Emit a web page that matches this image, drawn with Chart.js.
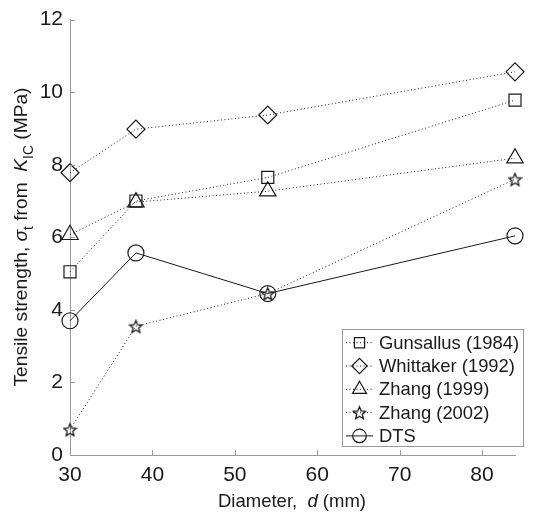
<!DOCTYPE html>
<html>
<head>
<meta charset="utf-8">
<script src="https://cdn.jsdelivr.net/npm/chart.js@4/dist/chart.umd.min.js"></script>
<style>
  html, body { margin: 0; padding: 0; background: #fff; }
  #wrap { width: 539px; height: 513px; position: relative; }
</style>
</head>
<body>
<div id="wrap"><canvas id="c"></canvas></div>
<script>
const diameters = [30, 38, 54, 84];
const gunsallus = [5.05, 7.0, 7.65, 9.78];
const whittaker = [7.78, 8.98, 9.37, 10.56];
const zhang1999 = [6.07, 6.97, 7.27, 8.18];
const zhang2002 = [0.7, 3.55, 4.45, 7.6];
const dts = [3.7, 5.57, 4.45, 6.04];
const xTicks = [30, 40, 50, 60, 70, 80];
const yTicks = [0, 2, 4, 6, 8, 10, 12];
const seriesLabels = ['Gunsallus (1984)', 'Whittaker (1992)', 'Zhang (1999)', 'Zhang (2002)', 'DTS'];

const INK = '#1a1a1a';
const AXIS = '#9a9a9a';
const FONT = '"Liberation Sans", Arial, Helvetica, sans-serif';

// five-pointed star outline used as a marker image
function makeStar(size) {
  const cv = document.createElement('canvas');
  cv.width = size; cv.height = size;
  const g = cv.getContext('2d');
  const c = size / 2, ro = size / 2 - 1, ri = ro * 0.45;
  g.beginPath();
  for (let i = 0; i < 10; i++) {
    const r = i % 2 ? ri : ro;
    const a = -Math.PI / 2 + i * Math.PI / 5;
    const px = c + r * Math.cos(a), py = c + 0.8 + r * Math.sin(a);
    i ? g.lineTo(px, py) : g.moveTo(px, py);
  }
  g.closePath();
  g.strokeStyle = INK;
  g.lineWidth = 1.3;
  g.stroke();
  return cv;
}
const starMarker = makeStar(15);

function series(label, values, style, radius, dotted) {
  return {
    label: label,
    data: values.map((v, i) => ({ x: diameters[i], y: v })),
    showLine: true,
    clip: false,
    borderColor: INK,
    borderWidth: 1,
    borderDash: dotted ? [1, 2.5] : [],
    pointStyle: style,
    pointRadius: radius,
    pointBorderColor: INK,
    pointBorderWidth: 1.2,
    pointBackgroundColor: 'rgba(0,0,0,0)',
    tension: 0
  };
}

const datasets = [
  series(seriesLabels[0], gunsallus, 'rect', 8.5, true),
  series(seriesLabels[1], whittaker, 'rectRot', 9, true),
  series(seriesLabels[2], zhang1999, 'triangle', 9.5, true),
  series(seriesLabels[3], zhang2002, starMarker, 7, true),
  series(seriesLabels[4], dts, 'circle', 8, false)
];

function drawRich(ctx, parts, size) {
  const fontFor = p => (p.italic ? 'italic ' : '') + (p.sub ? size * 0.72 : size) + 'px ' + FONT;
  let total = 0;
  parts.forEach(p => { ctx.font = fontFor(p); p.w = ctx.measureText(p.t).width; total += p.w; });
  let x = -total / 2;
  parts.forEach(p => {
    ctx.font = fontFor(p);
    ctx.fillText(p.t, x, p.sub ? size * 0.32 : 0);
    x += p.w;
  });
}

const decorPlugin = {
  id: 'decor',
  afterDraw(chart) {
    const ctx = chart.ctx;
    const xs = chart.scales.x, ys = chart.scales.y;
    const area = chart.chartArea;

    // inward tick marks
    ctx.save();
    ctx.strokeStyle = AXIS;
    ctx.lineWidth = 1;
    ctx.beginPath();
    xTicks.forEach(v => {
      const px = Math.round(xs.getPixelForValue(v)) + 0.5;
      ctx.moveTo(px, area.bottom); ctx.lineTo(px, area.bottom - 5);
    });
    yTicks.forEach(v => {
      const py = Math.round(ys.getPixelForValue(v)) + 0.5;
      ctx.moveTo(area.left, py); ctx.lineTo(area.left + 5, py);
    });
    ctx.stroke();
    ctx.restore();

    // axis titles
    ctx.save();
    ctx.fillStyle = INK;
    ctx.textBaseline = 'alphabetic';
    ctx.textAlign = 'left';
    ctx.translate(27, 237);
    ctx.rotate(-Math.PI / 2);
    drawRich(ctx, [
      { t: 'Tensile strength, ' },
      { t: 'σ', italic: true },
      { t: 't', sub: true },
      { t: ' from  ' },
      { t: 'K', italic: true },
      { t: 'IC', sub: true },
      { t: ' (MPa)' }
    ], 19.2);
    ctx.restore();

    ctx.save();
    ctx.fillStyle = INK;
    ctx.textBaseline = 'alphabetic';
    ctx.textAlign = 'left';
    ctx.translate(292, 507);
    drawRich(ctx, [
      { t: 'Diameter,  ' },
      { t: 'd', italic: true },
      { t: ' (mm)' }
    ], 18.5);
    ctx.restore();

    // legend box
    const bx = 342.5, by = 329.5, bw = 181, bh = 117;
    ctx.save();
    ctx.fillStyle = '#fff';
    ctx.fillRect(bx, by, bw, bh);
    ctx.strokeStyle = AXIS;
    ctx.lineWidth = 1;
    ctx.strokeRect(bx, by, bw, bh);
    const rowH = 23.3;
    chart.data.datasets.forEach((ds, i) => {
      const cy = 342.7 + i * rowH;
      ctx.strokeStyle = INK;
      ctx.lineWidth = 1;
      ctx.setLineDash(ds.borderDash);
      ctx.beginPath();
      ctx.moveTo(346, cy); ctx.lineTo(373, cy);
      ctx.stroke();
      ctx.setLineDash([]);
      ctx.lineWidth = 1.2;
      ctx.fillStyle = 'rgba(0,0,0,0)';
      Chart.helpers.drawPoint(ctx, {
        pointStyle: ds.pointStyle,
        radius: ds.pointStyle === starMarker ? 7 : ds.pointRadius * 0.85,
        rotation: 0,
        borderWidth: 1.2
      }, 359.5, cy);
      ctx.fillStyle = INK;
      ctx.font = '18.4px ' + FONT;
      ctx.textBaseline = 'middle';
      ctx.fillText(ds.label, 379, cy + 1);
    });
    ctx.restore();
  }
};

new Chart(document.getElementById('c'), {
  type: 'scatter',
  data: { datasets: datasets },
  options: {
    responsive: true,
    maintainAspectRatio: false,
    animation: false,
    layout: { padding: { top: 16, right: 24, left: 0, bottom: 0 } },
    plugins: { legend: { display: false }, tooltip: { enabled: false } },
    scales: {
      x: {
        type: 'linear',
        min: 30,
        max: 84,
        afterBuildTicks: s => { s.ticks = xTicks.map(v => ({ value: v })); },
        afterFit: s => { s.height = 58; },
        grid: { display: false, drawTicks: false },
        border: { display: true, color: AXIS, width: 1 },
        ticks: { color: INK, padding: 8, font: { family: FONT, size: 21 }, maxRotation: 0 }
      },
      y: {
        type: 'linear',
        min: 0,
        max: 12,
        afterBuildTicks: s => { s.ticks = yTicks.map(v => ({ value: v })); },
        afterFit: s => { s.width = 70; },
        grid: { display: false, drawTicks: false },
        border: { display: true, color: AXIS, width: 1 },
        ticks: { color: INK, padding: 7, font: { family: FONT, size: 21 } }
      }
    }
  },
  plugins: [decorPlugin]
});
</script>
</body>
</html>
